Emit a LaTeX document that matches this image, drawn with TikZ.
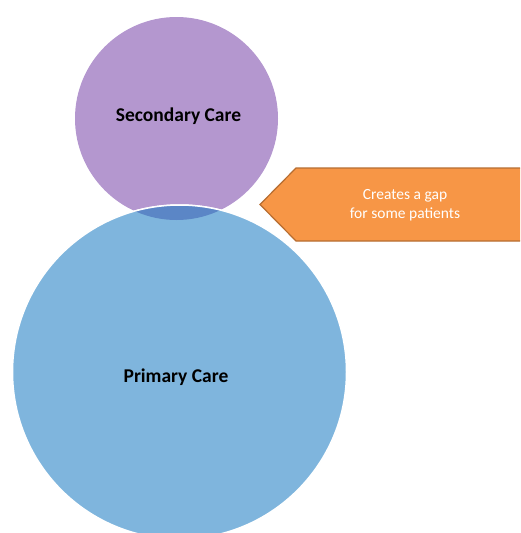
\documentclass[tikz,border=0pt]{standalone}
\usepackage{fontspec}
\setmainfont{Carlito}
\usepackage{tikz}
\usetikzlibrary{positioning}
\definecolor{carepurple}{RGB}{180,151,207}
\definecolor{careblue}{RGB}{127,181,221}
\definecolor{overlapblue}{RGB}{91,134,198}
\definecolor{gaporange}{RGB}{247,150,70}
\definecolor{gapedge}{RGB}{182,109,49}

\tikzset{
  carecircle/.style={circle,inner sep=0pt,align=center,
    font=\fontsize{19.5}{23}\selectfont\bfseries},
  gaptext/.style={align=center,text=white,font=\fontsize{15.5}{19}\selectfont}
}

\begin{document}
\begin{tikzpicture}[x=1pt,y=-1pt]
  \useasboundingbox (0,0) rectangle (520,533);
  \clip (0,0) rectangle (520,533);
  % the two care circles
  \node[carecircle,fill=carepurple,minimum size=203pt] (secondary) at (176.5,118.5)
       {};
  \node[carecircle,fill=careblue,draw=white,line width=1.5pt,minimum size=334pt]
       (primary) at (179.5,372) {};
  % overlap of both circles
  \begin{scope}
    \clip (secondary.center) circle (101.5);
    \fill[overlapblue] (primary.center) circle (167);
    \draw[white,line width=1.5pt] (primary.center) circle (167);
  \end{scope}
  % labels
  \node[font=\fontsize{19.5}{23}\selectfont\bfseries] (secondarylabel)
       at (178.5,116) {Secondary Care};
  \node[font=\fontsize{19.5}{23}\selectfont\bfseries] (primarylabel)
       at (176,377) {Primary Care};
  % callout pointing at the gap
  \coordinate (tip) at (260,204.5);
  \draw[fill=gaporange,draw=gapedge,line width=1.2pt]
       (tip) -- (296,168) -- (530,168) -- (530,241) -- (296,241) -- cycle;
  \node[gaptext] (gap) at (405,205) {Creates a gap\\for some patients};
\end{tikzpicture}
\end{document}
